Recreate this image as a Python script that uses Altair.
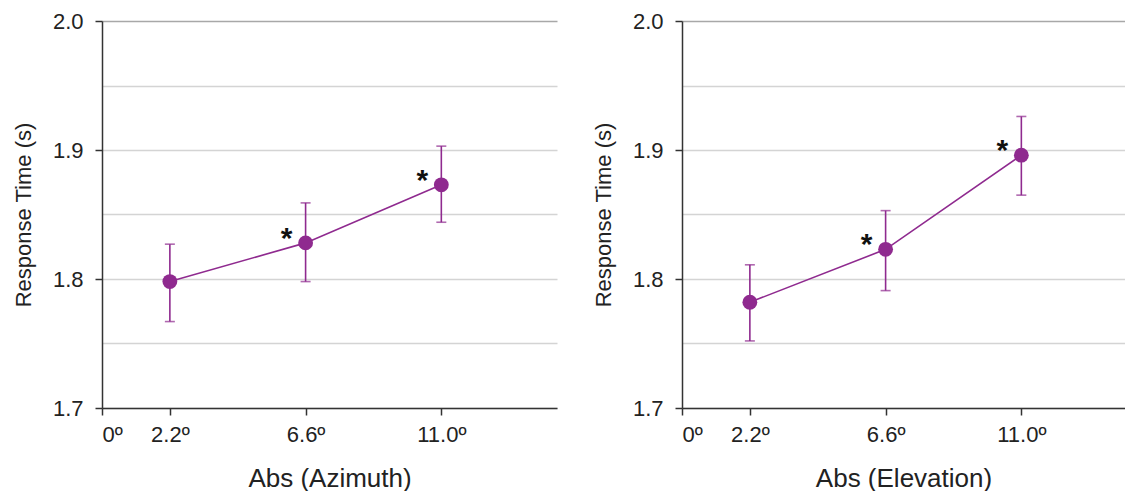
import altair as alt
import pandas as pd

# ---- data ----
x_vals = [2.2, 6.6, 11.0]
stars = ["", "*", "*"]

az_mean = [1.798, 1.828, 1.873]
az_lo = [1.767, 1.798, 1.844]
az_hi = [1.827, 1.859, 1.903]

el_mean = [1.782, 1.823, 1.896]
el_lo = [1.752, 1.791, 1.865]
el_hi = [1.811, 1.853, 1.926]

x_ticks = [0, 2.2, 6.6, 11.0]
x_tick_labels = ["0º", "2.2º", "6.6º", "11.0º"]
y_ticks = [1.7, 1.75, 1.8, 1.85, 1.9, 1.95, 2.0]

titles = ["Abs (Azimuth)", "Abs (Elevation)"]

PURPLE = "#8f2a8f"
FONT = "Liberation Sans"

x_label_expr = " : ".join(
    [f"abs(datum.value - {v}) < 0.01 ? '{l}'" for v, l in zip(x_ticks, x_tick_labels)]
) + " : ''"


def panel(mean, lo, hi, title, width, xmax):
    df = pd.DataFrame({"x": x_vals, "mean": mean, "lo": lo, "hi": hi, "star": stars})
    xenc = alt.X(
        "x:Q",
        scale=alt.Scale(domain=[0, xmax], nice=False, zero=False),
        axis=alt.Axis(
            values=x_ticks,
            labelExpr=x_label_expr,
            title=title,
            grid=False,
            tickSize=7,
            labelPadding=9,
            titlePadding=20,
            titleFontSize=26,
        ),
    )
    yenc = alt.Y(
        "mean:Q",
        scale=alt.Scale(domain=[1.7, 2.0], nice=False, zero=False),
        axis=alt.Axis(
            values=y_ticks,
            labelExpr="round(datum.value * 100) % 10 == 0 ? format(datum.value, '.1f') : ''",
            title="Response Time (s)",
            grid=True,
            gridColor={"condition": {"test": "datum.value > 1.99", "value": "#a8a8a8"}, "value": "#d4d4d4"},
            tickOpacity={"condition": {"test": "round(datum.value * 100) % 10 == 0", "value": 1}, "value": 0},
            tickSize=7,
            labelPadding=12,
            titlePadding=17,
            titleFontSize=22,
        ),
    )
    base = alt.Chart(df)
    err = base.mark_rule(color=PURPLE, strokeWidth=1.6).encode(x="x:Q", y="lo:Q", y2="hi:Q")
    cap_lo = base.mark_tick(color=PURPLE, orient="horizontal", size=10, thickness=1.6).encode(x="x:Q", y="lo:Q")
    cap_hi = base.mark_tick(color=PURPLE, orient="horizontal", size=10, thickness=1.6).encode(x="x:Q", y="hi:Q")
    line = base.mark_line(color=PURPLE, strokeWidth=1.6).encode(x=xenc, y=yenc)
    pts = base.mark_circle(color=PURPLE, size=220, opacity=1).encode(x="x:Q", y="mean:Q")
    txt = base.mark_text(
        text="", font=FONT, fontSize=30, fontWeight="bold", color="#111",
        dx=-19, dy=-4, baseline="middle", align="center"
    ).encode(x="x:Q", y="mean:Q", text="star:N")
    return alt.layer(line, err, cap_lo, cap_hi, pts, txt).properties(width=width, height=387)


left = panel(az_mean, az_lo, az_hi, titles[0], 455, 14.75)
right = panel(el_mean, el_lo, el_hi, titles[1], 443, 14.36)

chart = (
    alt.hconcat(left, right, spacing=35)
    .properties(padding={"left": 4, "top": 2, "right": 0, "bottom": 0}, background="white")
    .configure_view(stroke=None)
    .configure_axis(
        labelFont=FONT,
        titleFont=FONT,
        labelFontSize=22,
        labelColor="#222",
        titleColor="#222",
        titleFontWeight="normal",
        domainColor="#333",
        domainWidth=1.5,
        tickColor="#333",
        tickWidth=1.5,
        gridWidth=1.3,
    )
)

chart.save("out.html", embed_options={"renderer": "svg", "actions": False})
